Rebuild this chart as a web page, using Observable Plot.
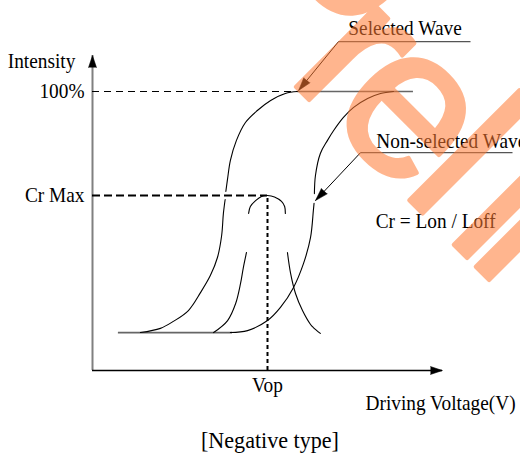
<!DOCTYPE html>
<html>
<head>
<meta charset="utf-8">
<script src="https://cdn.jsdelivr.net/npm/d3@7"></script>
<script src="https://cdn.jsdelivr.net/npm/@observablehq/plot@0.6"></script>
<style>
  html, body { margin: 0; padding: 0; background: #fff; overflow: hidden; }
  #wrap { position: relative; width: 520px; height: 457px; overflow: hidden; }
  #cap { width: 500px; padding-left: 20px; margin-top: 8px; text-align: center;
         font-family: "Liberation Serif", "Times New Roman", serif; font-size: 24px; line-height: 24px; color: #000; }
  #cap span { display: inline-block; transform: scaleX(0.92); }
  #wm { position: absolute; left: 0; top: 0; pointer-events: none; }
</style>
</head>
<body>
<div id="wrap">
  <div id="chart"></div>
  <div id="cap"><span id="capText"></span></div>
  <svg id="wm" width="520" height="457">
    <g opacity="0.55" fill="#ff7a33" stroke="#ff7a33" stroke-width="4" stroke-linejoin="round"
       font-family="Liberation Sans, Arial, sans-serif" font-size="215" text-anchor="middle">
      <text transform="translate(317,-4) rotate(45)">o</text>
      <text transform="translate(310.5,101.5) rotate(45)">r</text>
      <text transform="translate(366,157) rotate(45)">e</text>
      <text transform="translate(416,207) rotate(45)">l</text>
      <text transform="translate(460.5,251.5) rotate(45)">l</text>
      <text transform="translate(482.5,273.5) rotate(45)">l</text>
    </g>
  </svg>
</div>
<script>
// ---- values (voltage in arbitrary units, intensity in %) ----
const selectedV    = [1.37, 1.94, 2.31, 2.74, 3.09, 3.37, 3.57, 3.69, 3.74, 3.79, null, 3.81, 3.86, 3.94, 4.11, 4.37, 4.71, 5.09, 5.51, 5.86];
const selectedI    = [13.6, 15.1, 17.6, 21.5, 28.0, 34.1, 40.5, 48.4, 56.3, 61.3, null, 64.2, 68.8, 75.3, 82.4, 88.9, 93.2, 96.8, 99.3, 100];
const nonSelectedV = [3.94, 4.43, 5.0, 5.37, 5.74, 6.03, 6.23, 6.31, 6.33, null, 6.34, 6.37, 6.51, 6.71, 6.89, 7.17, 7.46, 7.86, 8.23, 8.6];
const nonSelectedI = [13.6, 14.3, 17.9, 22.6, 29.7, 38.4, 47.7, 57.3, 59.9, null, 63.4, 69.9, 77.8, 82.4, 86.0, 90.7, 94.3, 97.5, 99.3, 100];
const contrastV    = [3.46, 3.86, 4.09, 4.23, 4.31, 4.4, null, 4.46, 4.51, 4.66, 4.83, 5.0, 5.2, 5.4, 5.49, 5.51, null, 5.57, 5.66, 5.8, 6.0, 6.23, 6.31, 6.51];
const contrastI    = [13.6, 17.9, 24.0, 31.2, 36.9, 42.3, null, 56.3, 58.8, 60.9, 62.4, 62.7, 62.2, 60.6, 58.8, 56.3, null, 42.3, 34.8, 27.6, 21.5, 16.5, 15.4, 13.3];

const vop = 5.0;          // operating voltage
const crMax = 62.7;       // peak of contrast curve
const fullScale = 100;    // 100 %
const offLevel = 13.6;    // dark level
const offLevelSpan = [0.74, 4.0];
const fullLevelSpan = [5.86, 9.17];

const tickLabels = ["100%", "Cr Max"];
const tickValues = [fullScale, crMax];
const yLabel = "Intensity";
const xLabel = "Driving Voltage(V)";
const vopLabel = "Vop";
const seriesLabels = ["Selected Wave", "Non-selected Wave"];
const formula = "Cr = Lon / Loff";
const caption = "[Negative type]";

// ---- scales ----
const X_DOMAIN = [0, 10], X_RANGE = [92, 442];
const Y_DOMAIN = [0, 100], Y_RANGE = [370, 91];
const xs = d3.scaleLinear(X_DOMAIN, X_RANGE);
const ys = d3.scaleLinear(Y_DOMAIN, Y_RANGE);
const heading = (fx, fy, tx, ty) => Math.atan2(xs(tx) - xs(fx), -(ys(ty) - ys(fy))) * 180 / Math.PI;

const rows = (V, I) => V.map((v, k) => ({v, i: I[k]}));

const callouts = [
  {label: seriesLabels[0], ex: 7.03, ey: 117.9, tx: 5.89, ty: 100.4, ux: 10.8, lx: 7.31, ly: 120.1},
  {label: seriesLabels[1], ex: 7.66, ey: 78.1,  tx: 6.37, ty: 60.9,  ux: 12.0, lx: 8.11, ly: 79.9}
];
callouts.forEach(d => d.rot = heading(d.ex, d.ey, d.tx, d.ty));

const yTop = 112.9;
const axisHeads = [{x: 0, y: yTop, a: 0}, {x: X_DOMAIN[1], y: 0, a: 90}];

const curveStyle = {x: "v", y: "i", curve: "catmull-rom", stroke: "black", strokeWidth: 1.1};

const chart = Plot.plot({
  width: 520,
  height: 420,
  margin: 0,
  x: {domain: X_DOMAIN, range: X_RANGE, axis: null},
  y: {domain: Y_DOMAIN, range: Y_RANGE, axis: null},
  style: {fontFamily: "'Liberation Serif', 'Times New Roman', serif", fontSize: "21px", color: "black", background: "white", overflow: "visible"},
  marks: [
    // axes
    Plot.ruleX([0], {y1: 0, y2: yTop, stroke: "#808080", strokeWidth: 2}),
    Plot.ruleY([0], {x1: 0, x2: X_DOMAIN[1], stroke: "black", strokeWidth: 1.5}),
    Plot.vector(axisHeads, {x: "x", y: "y", rotate: "a", length: 12, r: 4, anchor: "end", shape: "spike", fill: "black", stroke: "black", strokeWidth: 0.5}),
    // reference levels
    Plot.ruleY([fullScale], {x1: 0, x2: 6.8, stroke: "black", strokeWidth: 1.2, strokeDasharray: "7,5"}),
    Plot.ruleY([crMax], {x1: 0, x2: vop, stroke: "black", strokeWidth: 2, strokeDasharray: "8,4"}),
    Plot.ruleX([vop], {y1: 0, y2: crMax, stroke: "black", strokeWidth: 2, strokeDasharray: "4,3"}),
    Plot.ruleY([offLevel], {x1: offLevelSpan[0], x2: offLevelSpan[1], stroke: "#666", strokeWidth: 1.8}),
    Plot.ruleY([fullScale], {x1: fullLevelSpan[0], x2: fullLevelSpan[1], stroke: "#666", strokeWidth: 1.5}),
    // curves
    Plot.line(rows(selectedV, selectedI), curveStyle),
    Plot.line(rows(nonSelectedV, nonSelectedI), curveStyle),
    Plot.line(rows(contrastV, contrastI), curveStyle),
    // callouts
    Plot.link(callouts, {x1: "ex", y1: "ey", x2: "ux", y2: "ey", stroke: "#555", strokeWidth: 1.3}),
    Plot.link(callouts, {x1: "ex", y1: "ey", x2: "tx", y2: "ty", stroke: "black", strokeWidth: 1}),
    Plot.vector(callouts, {x: "tx", y: "ty", rotate: "rot", length: 13, r: 4, anchor: "end", shape: "spike", fill: "black", stroke: "black", strokeWidth: 0.5}),
    Plot.text(callouts, {x: "lx", y: "ly", text: "label", textAnchor: "start", lineAnchor: "bottom", fill: "black"}),
    // labels
    Plot.text(tickLabels, {x: 0, y: (d, k) => tickValues[k], text: d => d, textAnchor: "end", lineAnchor: "middle", dx: -8, fill: "black"}),
    Plot.text([yLabel], {x: -0.49, y: 108.6, text: d => d, textAnchor: "end", lineAnchor: "bottom", fill: "black"}),
    Plot.text([vopLabel], {x: vop, y: 0, text: d => d, textAnchor: "middle", lineAnchor: "top", dy: 7, fill: "black"}),
    Plot.text([xLabel], {x: 7.8, y: -14.3, text: d => d, textAnchor: "start", lineAnchor: "bottom", fill: "black"}),
    Plot.text([formula], {x: 8.09, y: 50.9, text: d => d, textAnchor: "start", lineAnchor: "bottom", fill: "black"})
  ]
});

document.getElementById("chart").appendChild(chart);
document.getElementById("capText").textContent = caption;

// condense the serif text horizontally like the reference
chart.querySelectorAll("text").forEach(t => {
  const L = t.getComputedTextLength();
  if (L > 0) {
    t.setAttribute("textLength", (L * 0.92).toFixed(1));
    t.setAttribute("lengthAdjust", "spacingAndGlyphs");
  }
});
</script>
</body>
</html>
